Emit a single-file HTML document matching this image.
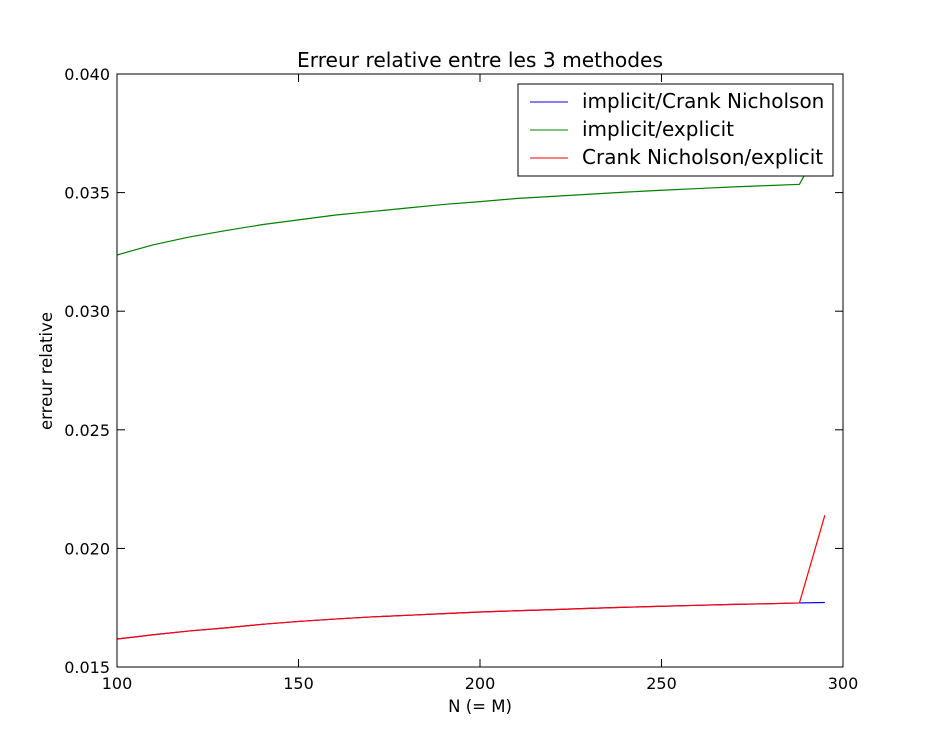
<!DOCTYPE html>
<html><head><meta charset="utf-8"><style>
html,body{margin:0;padding:0;background:#fff;}
svg{display:block;font-family:"DejaVu Sans","Liberation Sans",sans-serif;}
</style></head><body>
<svg id="chart" width="936" height="741">
<rect x="0" y="0" width="936" height="741" fill="#fff"/>
<defs><clipPath id="clip"><rect x="117" y="74" width="726" height="593"/></clipPath></defs>
<g id="series" clip-path="url(#clip)"></g>
<rect x="117" y="74" width="726" height="593" fill="none" stroke="#000" stroke-width="1"/>
<g id="ticks"></g>
<text x="480" y="67" text-anchor="middle" font-size="20.2">Erreur relative entre les 3 methodes</text>
<text x="480" y="712" text-anchor="middle" font-size="16.5">N (= M)</text>
<text x="52" y="371" text-anchor="middle" font-size="16.5" transform="rotate(-90 52 371)">erreur relative</text>
<g>
<rect x="518" y="84" width="315" height="92" fill="#fff" stroke="#000" stroke-width="1"/>
<g><line x1="530" y1="102" x2="568" y2="102" stroke="#0000ff"/><text x="582" y="108" font-size="20">implicit/Crank Nicholson</text></g>
<g><line x1="530" y1="130" x2="568" y2="130" stroke="#008000"/><text x="582" y="136" font-size="20">implicit/explicit</text></g>
<g><line x1="530" y1="158" x2="568" y2="158" stroke="#ff0000"/><text x="582" y="164" font-size="20">Crank Nicholson/explicit</text></g>
</g>
</svg>
<script>
const xs=[100,110,120,130,140,150,160,170,180,190,200,210,220,230,240,250,260,270,280,288,295];
const implicitExplicit=[.03237,.03280,.03313,.03340,.03365,.03385,.03405,.03420,.03435,.03450,.03462,.03475,.03484,.03493,.03502,.03510,.03517,.03524,.03530,.03535,.0373];
const implicitCN=[.01618,.01636,.01652,.01665,.01680,.01692,.01702,.01711,.01718,.01725,.01732,.01737,.01742,.01747,.01752,.01756,.01760,.01764,.01767,.01770,.01772];
const cnExplicit=[.01618,.01636,.01652,.01665,.01680,.01692,.01702,.01711,.01718,.01725,.01732,.01737,.01742,.01747,.01752,.01756,.01760,.01764,.01767,.01770,.0214];
const xTicks=[100,150,200,250,300];
const yTicks=[0.015,0.020,0.025,0.030,0.035,0.040];
const yTickLabels=["0.015","0.020","0.025","0.030","0.035","0.040"];
const NS="http://www.w3.org/2000/svg";
function xS(v){return 117+(v-100)/200*726;}
function yS(v){return 667-(v-0.015)/0.025*593;}
const series=document.getElementById('series');
function addLine(vals,color,name){
  const p=document.createElementNS(NS,'polyline');
  p.setAttribute('points',xs.map((x,i)=>xS(x)+','+yS(vals[i])).join(' '));
  p.setAttribute('fill','none');p.setAttribute('stroke',color);p.setAttribute('stroke-width','1.2');
  
  
  series.appendChild(p);
}
addLine(implicitExplicit,'#008000','line-implicit-explicit');
addLine(implicitCN,'#0000ff','line-implicit-crank-nicholson');
addLine(cnExplicit,'#ff0000','line-crank-nicholson-explicit');
const t=document.getElementById('ticks');
function el(tag,attrs){const e=document.createElementNS(NS,tag);for(const k in attrs)e.setAttribute(k,attrs[k]);t.appendChild(e);return e;}
xTicks.forEach(v=>{
  const x=xS(v);
  el('line',{x1:x,y1:667,x2:x,y2:659,stroke:'#000'});
  el('line',{x1:x,y1:74,x2:x,y2:82,stroke:'#000'});
  const tx=el('text',{x:x,y:689,'text-anchor':'middle','font-size':'16'});
  tx.textContent=String(v);
  
  
});
yTicks.forEach((v,i)=>{
  const y=yS(v);
  el('line',{x1:117,y1:y,x2:125,y2:y,stroke:'#000'});
  el('line',{x1:843,y1:y,x2:835,y2:y,stroke:'#000'});
  const tx=el('text',{x:110,y:y+6,'text-anchor':'end','font-size':'16'});
  tx.textContent=yTickLabels[i];
  
  
});
</script>
</body></html>
